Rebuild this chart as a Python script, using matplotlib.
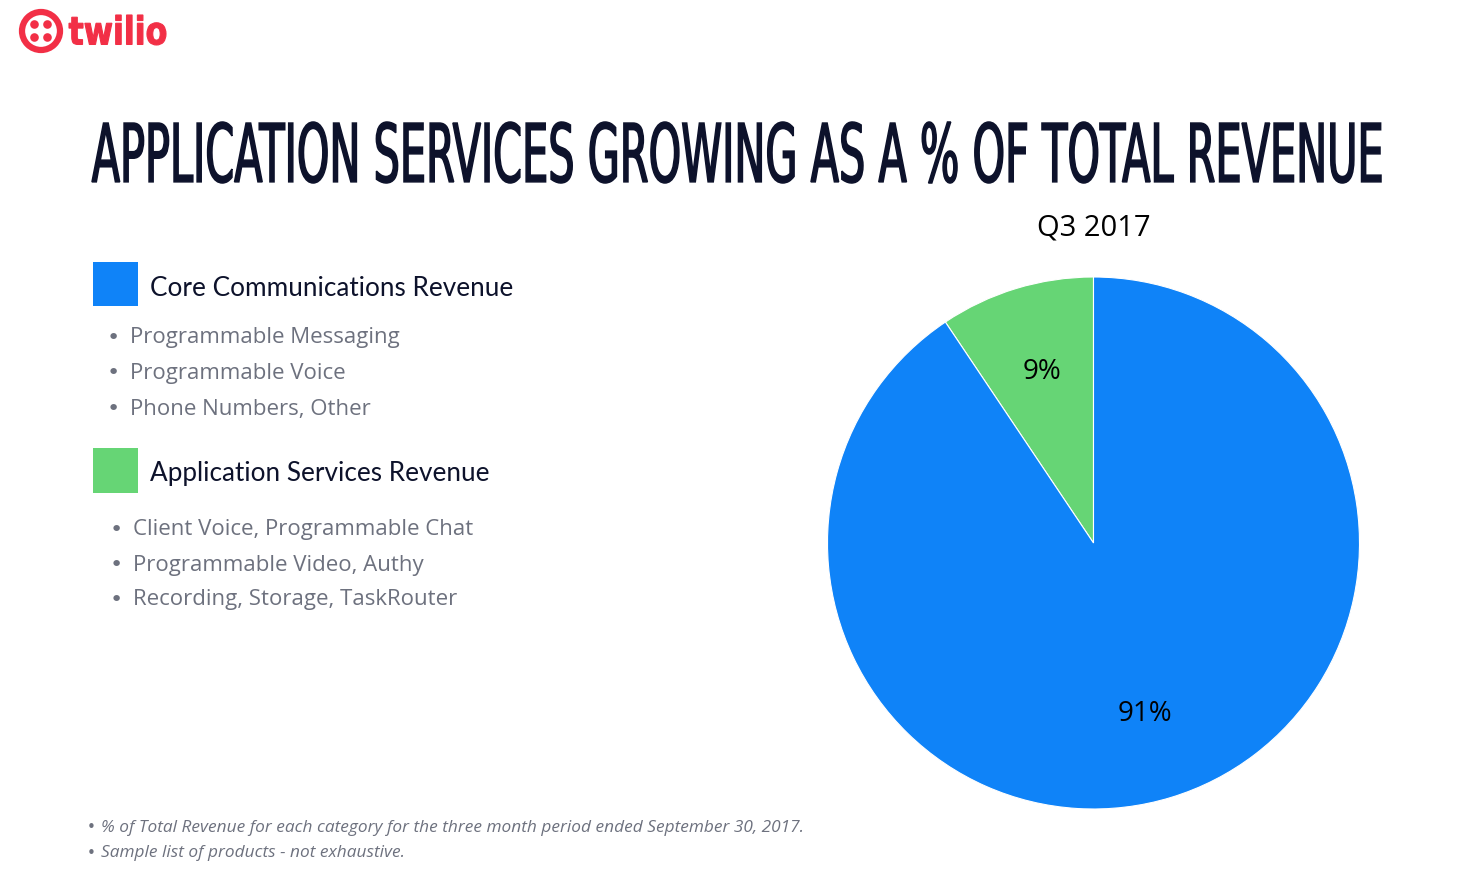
import matplotlib
matplotlib.use('Agg')
import matplotlib.pyplot as plt
import matplotlib.patches as patches
from matplotlib.textpath import TextPath
from matplotlib.font_manager import FontProperties
from matplotlib.transforms import Affine2D

# ─── Data ───────────────────────────────────────────────────────────────────
segments = ['Application Services Revenue', 'Core Communications Revenue']
shares   = [9.4, 90.6]
period   = 'Q3 2017'
core_items = ['Programmable Messaging', 'Programmable Voice', 'Phone Numbers, Other']
app_items  = ['Client Voice, Programmable Chat', 'Programmable Video, Authy',
              'Recording, Storage, TaskRouter']
notes = ['% of Total Revenue for each category for the three month period ended September 30, 2017.',
         'Sample list of products - not exhaustive.']

# ─── Palette ────────────────────────────────────────────────────────────────
BLUE  = '#0F83F8'
GREEN = '#66D575'
NAVY  = '#0D122B'
GREY  = '#6D717E'
RED   = '#F22F46'

W, H, DPI = 1458, 876, 100
fig = plt.figure(figsize=(W / DPI, H / DPI), dpi=DPI, facecolor='white')
ax = fig.add_axes([0, 0, 1, 1])
ax.set_xlim(0, W); ax.set_ylim(H, 0); ax.axis('off')


def fit_text(s, x0, y0, x1, y1, prop, color, stroke=0):
    # draw a text path stretched into a pixel box (y grows downward)
    tp = TextPath((0, 0), s, prop=prop, size=100)
    ext = tp.get_extents()
    sx = (x1 - x0) / ext.width
    sy = (y1 - y0) / ext.height
    tr = Affine2D().translate(-ext.x0, -ext.y0).scale(sx, -sy).translate(x0, y1)
    ax.add_patch(patches.PathPatch(tr.transform_path(tp), fc=color,
                                   ec=color if stroke else 'none', lw=stroke,
                                   joinstyle='miter'))


# ─── Logo ───────────────────────────────────────────────────────────────────
ax.add_patch(patches.Circle((41, 31), 19, fc='none', ec=RED, lw=4.5))
for dx in (-6.5, 6.5):
    for dy in (-6.5, 6.5):
        ax.add_patch(patches.Circle((41 + dx, 31 + dy), 4.3, fc=RED, ec='none'))
fit_text('twilio', 69, 15, 166, 45,
         FontProperties(family='DejaVu Sans', weight='bold'), RED, stroke=0.8)

# ─── Title ──────────────────────────────────────────────────────────────────
fit_text('APPLICATION SERVICES GROWING AS A % OF TOTAL REVENUE', 92, 122, 1381, 183,
         FontProperties(family='Liberation Sans Narrow', weight='normal'), NAVY,
         stroke=1.1)

# ─── Legend blocks ──────────────────────────────────────────────────────────
ax.add_patch(patches.Rectangle((93, 262), 45, 44, fc=BLUE, ec='none'))
ax.text(150, 288, segments[1], fontsize=18.8, color=NAVY, family='Lato',
        va='center', ha='left')
for i, s in enumerate(core_items):
    y = 338 + i * 35.5
    ax.text(113, y, '•', fontsize=16, color=GREY, va='center', ha='center')
    ax.text(130, y, s, fontsize=16, color=GREY, family='Open Sans', va='center')

ax.add_patch(patches.Rectangle((93, 448), 45, 45, fc=GREEN, ec='none'))
ax.text(150, 474, segments[0], fontsize=18.8, color=NAVY, family='Lato',
        va='center', ha='left')
for i, s in enumerate(app_items):
    y = 530 + i * 35
    ax.text(116, y, '•', fontsize=16, color=GREY, va='center', ha='center')
    ax.text(133, y, s, fontsize=16, color=GREY, family='Open Sans', va='center')

# ─── Footnotes ──────────────────────────────────────────────────────────────
for i, s in enumerate(notes):
    y = 828 + i * 25
    ax.text(91, y, '•', fontsize=11, color=GREY, va='center', ha='center')
    ax.text(101, y, s, fontsize=12.4, color=GREY, family='Open Sans', style='italic',
            va='center')

# ─── Pie ────────────────────────────────────────────────────────────────────
ax.text(1094, 228, period, fontsize=21, color='black', family='Open Sans',
        ha='center', va='center')

pax = fig.add_axes([827 / W, (H - 809) / H, 533 / W, 532 / H])
wedges, texts, autotexts = pax.pie(
    shares, colors=[GREEN, BLUE], startangle=90, counterclock=True,
    autopct=lambda p: '%d%%' % round(p), pctdistance=0.67,
    wedgeprops=dict(edgecolor='white', linewidth=0.8))
for t in autotexts:
    t.set_fontsize(20)
    t.set_color('black')
    t.set_family('Open Sans')
pax.set_xlim(-1.0, 1.0)
pax.set_ylim(-1.0, 1.0)
pax.set_aspect('equal')

fig.savefig('out.png', dpi=DPI, facecolor='white')
